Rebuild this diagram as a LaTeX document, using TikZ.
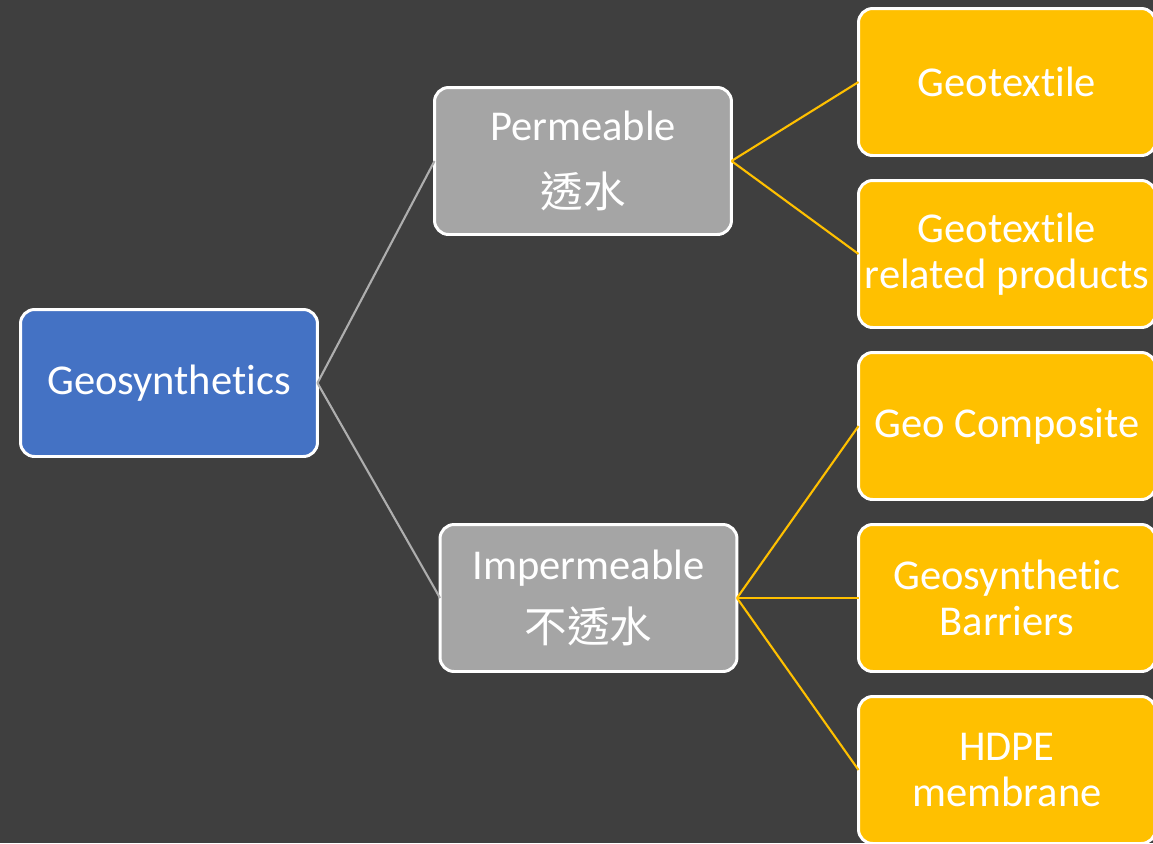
\documentclass[tikz,border=0pt]{standalone}
\usepackage{fontspec}
\setmainfont{Carlito}[Ligatures=NoCommon]
\newfontfamily\cjk{Noto Sans CJK TC}
\usepackage{xcolor}
\usetikzlibrary{positioning}
\definecolor{bg}{HTML}{3F3F3F}
\definecolor{root}{HTML}{4472C4}
\definecolor{mid}{HTML}{A5A5A5}
\definecolor{leaf}{HTML}{FFC000}
\tikzset{
  box/.style={draw=white,line width=1.7pt,rounded corners=8pt,minimum width=5.94cm,minimum height=2.94cm,
    inner sep=2pt,align=center,text=white,font=\fontsize{24.2}{26}\selectfont,outer sep=0pt},
  rootbox/.style={box,fill=root},
  midbox/.style={box,fill=mid},
  leafbox/.style={box,fill=leaf},
  grayline/.style={draw=mid!90!white,line width=1.2pt},
  gold/.style={draw=leaf,line width=1.2pt},
}
\begin{document}
\begin{tikzpicture}[x=0.02cm,y=-0.02cm]
\fill[bg] (0,0) rectangle (1153,843);
\useasboundingbox (0,0) rectangle (1153,843);
% root and the two classes
\node[rootbox] (geo) at (169,383) {Geosynthetics};
\node[midbox] (perm) at (583,161) {Permeable\\[12pt]{\cjk 透水}};
\node[midbox] (imp) at (588.5,598) {Impermeable\\[10pt]{\cjk 不透水}};
% products
\node[leafbox] (gtx) at (1007,82) {Geotextile};
\node[leafbox] (gtr) at (1007,254) {Geotextile\\related products};
\node[leafbox] (gcp) at (1007,426) {Geo Composite};
\node[leafbox] (gbr) at (1007,598) {Geosynthetic\\Barriers};
\node[leafbox] (hdpe) at (1007,770) {HDPE\\membrane};
% links
\draw[grayline] (geo.east) -- (perm.west);
\draw[grayline] (geo.east) -- (imp.west);
\draw[gold] (perm.east) -- (gtx.west);
\draw[gold] (perm.east) -- (gtr.west);
\draw[gold] (imp.east) -- (gcp.west);
\draw[gold] (imp.east) -- (gbr.west);
\draw[gold] (imp.east) -- (hdpe.west);
\end{tikzpicture}
\end{document}
